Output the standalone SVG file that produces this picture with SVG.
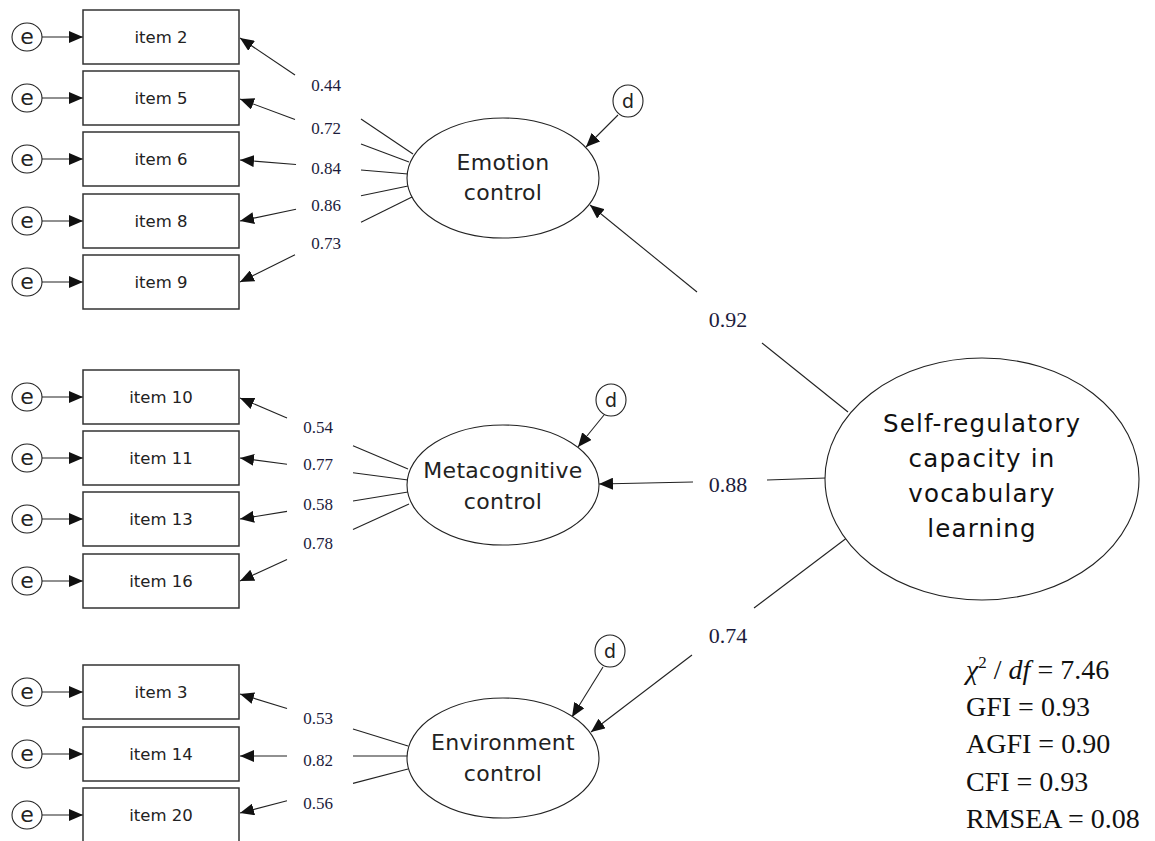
<svg xmlns="http://www.w3.org/2000/svg" width="1155" height="841" viewBox="0 0 1155 841">
<style>
.bg{fill:#fff}
.box{fill:#fff;stroke:#333;stroke-width:1.5}
.ell{fill:#fff;stroke:#222;stroke-width:1.1}
.ln{stroke:#222;stroke-width:1.1;fill:none}
.ar{stroke:#222;stroke-width:1.1;fill:none;marker-end:url(#ah)}
.it{font-family:"DejaVu Sans",sans-serif;font-size:16.5px;fill:#222;text-anchor:middle}
.lat{font-family:"DejaVu Sans",sans-serif;font-size:22px;fill:#222;text-anchor:middle;letter-spacing:0.3px}
.big{font-family:"DejaVu Sans",sans-serif;font-size:24.5px;fill:#111;text-anchor:middle;letter-spacing:1.2px}
.ev{font-family:"DejaVu Sans",sans-serif;font-size:22px;fill:#222;text-anchor:middle}
.dv{font-family:"DejaVu Sans",sans-serif;font-size:19px;fill:#222;text-anchor:middle}
.sl{font-family:"Liberation Serif",serif;font-size:17px;fill:#1c1c3c;text-anchor:middle}
.ml{font-family:"Liberation Serif",serif;font-size:22px;fill:#1c1c3c;text-anchor:middle}
.fit{font-family:"Liberation Serif",serif;font-size:28px;fill:#111}
</style>
<defs>
<marker id="ah" markerUnits="userSpaceOnUse" markerWidth="14" markerHeight="12" viewBox="0 0 14 12" refX="14" refY="6" orient="auto">
<path d="M0,0 L14,6 L0,12 z" fill="#111"/>
</marker>
</defs>
<rect class="bg" x="0" y="0" width="1155" height="841"/>

<g id="connectors">
<!-- e arrows -->
<line class="ar" x1="42" y1="37" x2="83" y2="37"/>
<line class="ar" x1="42" y1="98" x2="83" y2="98"/>
<line class="ar" x1="42" y1="159" x2="83" y2="159"/>
<line class="ar" x1="42" y1="221" x2="83" y2="221"/>
<line class="ar" x1="42" y1="282" x2="83" y2="282"/>
<line class="ar" x1="42" y1="397" x2="83" y2="397"/>
<line class="ar" x1="42" y1="458" x2="83" y2="458"/>
<line class="ar" x1="42" y1="519" x2="83" y2="519"/>
<line class="ar" x1="42" y1="581" x2="83" y2="581"/>
<line class="ar" x1="42" y1="692" x2="83" y2="692"/>
<line class="ar" x1="42" y1="754" x2="83" y2="754"/>
<line class="ar" x1="42" y1="815" x2="83" y2="815"/>
<!-- emotion loadings -->
<line class="ln" x1="413" y1="154" x2="361" y2="119"/>
<line class="ar" x1="295" y1="75" x2="240" y2="38"/>
<line class="ln" x1="409" y1="162" x2="361" y2="144"/>
<line class="ar" x1="295" y1="119.5" x2="240" y2="99"/>
<line class="ln" x1="408" y1="174" x2="361" y2="170"/>
<line class="ar" x1="296" y1="164.5" x2="240" y2="160"/>
<line class="ln" x1="408" y1="186" x2="361" y2="195.8"/>
<line class="ar" x1="296" y1="209.3" x2="240" y2="221"/>
<line class="ln" x1="412" y1="197" x2="361" y2="222.2"/>
<line class="ar" x1="295" y1="254.8" x2="240" y2="282"/>
<!-- metacognitive loadings -->
<line class="ln" x1="408" y1="469" x2="353" y2="445.8"/>
<line class="ar" x1="287" y1="417.9" x2="240" y2="398"/>
<line class="ln" x1="408" y1="480" x2="353" y2="472.8"/>
<line class="ar" x1="287" y1="464.2" x2="240" y2="458"/>
<line class="ln" x1="408" y1="492" x2="353" y2="501"/>
<line class="ar" x1="287" y1="511.4" x2="240" y2="519"/>
<line class="ln" x1="409" y1="504" x2="353" y2="529.5"/>
<line class="ar" x1="287" y1="559.6" x2="240" y2="581"/>
<!-- environment loadings -->
<line class="ln" x1="408" y1="746" x2="353" y2="729"/>
<line class="ar" x1="287" y1="708.5" x2="240" y2="694"/>
<line class="ln" x1="408" y1="756" x2="353" y2="756"/>
<line class="ar" x1="287" y1="756" x2="240" y2="756"/>
<line class="ln" x1="408" y1="769" x2="353" y2="783.4"/>
<line class="ar" x1="287" y1="800.7" x2="240" y2="813"/>
<!-- second-order paths -->
<line class="ln" x1="848" y1="412" x2="762" y2="343"/>
<line class="ar" x1="697" y1="292" x2="590" y2="205"/>
<line class="ln" x1="826" y1="478" x2="767" y2="480"/>
<line class="ar" x1="693" y1="482" x2="599" y2="484"/>
<line class="ln" x1="848" y1="537" x2="754" y2="608"/>
<line class="ar" x1="692" y1="655" x2="591" y2="732"/>
<!-- disturbance arrows -->
<line class="ar" x1="618" y1="115" x2="586" y2="147"/>
<line class="ar" x1="604" y1="415" x2="578" y2="447"/>
<line class="ar" x1="603" y1="667" x2="572" y2="717"/>
<!-- loading labels -->
<text class="sl" x="326" y="91">0.44</text>
<text class="sl" x="326" y="134">0.72</text>
<text class="sl" x="326" y="174">0.84</text>
<text class="sl" x="326" y="211">0.86</text>
<text class="sl" x="326" y="249">0.73</text>
<text class="sl" x="318" y="433">0.54</text>
<text class="sl" x="318" y="470">0.77</text>
<text class="sl" x="318" y="510">0.58</text>
<text class="sl" x="318" y="549">0.78</text>
<text class="sl" x="318" y="724">0.53</text>
<text class="sl" x="318" y="766">0.82</text>
<text class="sl" x="318" y="809">0.56</text>
<text class="ml" x="728" y="327">0.92</text>
<text class="ml" x="728" y="492">0.88</text>
<text class="ml" x="728" y="643">0.74</text>
</g>

<!-- error terms -->
<g id="e1"><ellipse class="ell" cx="27" cy="37" rx="15" ry="14"/><text class="ev" x="27" y="43.5">e</text></g>
<g id="e2"><ellipse class="ell" cx="27" cy="98" rx="15" ry="14"/><text class="ev" x="27" y="104.5">e</text></g>
<g id="e3"><ellipse class="ell" cx="27" cy="159" rx="15" ry="14"/><text class="ev" x="27" y="165.5">e</text></g>
<g id="e4"><ellipse class="ell" cx="27" cy="221" rx="15" ry="14"/><text class="ev" x="27" y="227.5">e</text></g>
<g id="e5"><ellipse class="ell" cx="27" cy="282" rx="15" ry="14"/><text class="ev" x="27" y="288.5">e</text></g>
<g id="e6"><ellipse class="ell" cx="27" cy="397" rx="15" ry="14"/><text class="ev" x="27" y="403.5">e</text></g>
<g id="e7"><ellipse class="ell" cx="27" cy="458" rx="15" ry="14"/><text class="ev" x="27" y="464.5">e</text></g>
<g id="e8"><ellipse class="ell" cx="27" cy="519" rx="15" ry="14"/><text class="ev" x="27" y="525.5">e</text></g>
<g id="e9"><ellipse class="ell" cx="27" cy="581" rx="15" ry="14"/><text class="ev" x="27" y="587.5">e</text></g>
<g id="e10"><ellipse class="ell" cx="27" cy="692" rx="15" ry="14"/><text class="ev" x="27" y="698.5">e</text></g>
<g id="e11"><ellipse class="ell" cx="27" cy="754" rx="15" ry="14"/><text class="ev" x="27" y="760.5">e</text></g>
<g id="e12"><ellipse class="ell" cx="27" cy="815" rx="15" ry="14"/><text class="ev" x="27" y="821.5">e</text></g>

<!-- observed items -->
<g id="item2"><rect class="box" x="83" y="10" width="156" height="54"/><text class="it" x="161" y="43">item 2</text></g>
<g id="item5"><rect class="box" x="83" y="71" width="156" height="54"/><text class="it" x="161" y="104">item 5</text></g>
<g id="item6"><rect class="box" x="83" y="132" width="156" height="54"/><text class="it" x="161" y="165">item 6</text></g>
<g id="item8"><rect class="box" x="83" y="194" width="156" height="54"/><text class="it" x="161" y="227">item 8</text></g>
<g id="item9"><rect class="box" x="83" y="255" width="156" height="54"/><text class="it" x="161" y="288">item 9</text></g>
<g id="item10"><rect class="box" x="83" y="370" width="156" height="54"/><text class="it" x="161" y="403">item 10</text></g>
<g id="item11"><rect class="box" x="83" y="431" width="156" height="54"/><text class="it" x="161" y="464">item 11</text></g>
<g id="item13"><rect class="box" x="83" y="492" width="156" height="54"/><text class="it" x="161" y="525">item 13</text></g>
<g id="item16"><rect class="box" x="83" y="554" width="156" height="54"/><text class="it" x="161" y="587">item 16</text></g>
<g id="item3"><rect class="box" x="83" y="665" width="156" height="54"/><text class="it" x="161" y="698">item 3</text></g>
<g id="item14"><rect class="box" x="83" y="727" width="156" height="54"/><text class="it" x="161" y="760">item 14</text></g>
<g id="item20"><rect class="box" x="83" y="788" width="156" height="54"/><text class="it" x="161" y="821">item 20</text></g>

<!-- latent factors -->
<g id="emotion"><ellipse class="ell" cx="503" cy="178" rx="96" ry="60"/><text class="lat" x="503" y="170">Emotion</text><text class="lat" x="503" y="200">control</text></g>
<g id="metacognitive"><ellipse class="ell" cx="503" cy="485" rx="96" ry="60"/><text class="lat" x="503" y="478">Metacognitive</text><text class="lat" x="503" y="509">control</text></g>
<g id="environment"><ellipse class="ell" cx="503" cy="758" rx="96" ry="60"/><text class="lat" x="503" y="750">Environment</text><text class="lat" x="503" y="781">control</text></g>

<!-- disturbances -->
<g id="d1"><ellipse class="ell" cx="628" cy="101" rx="15" ry="16"/><text class="dv" x="628" y="108">d</text></g>
<g id="d2"><ellipse class="ell" cx="611" cy="400" rx="15" ry="16"/><text class="dv" x="611" y="407">d</text></g>
<g id="d3"><ellipse class="ell" cx="610" cy="651" rx="15" ry="16"/><text class="dv" x="610" y="658">d</text></g>

<!-- second-order factor -->
<g id="srcvl"><ellipse class="ell" cx="982" cy="479" rx="157" ry="121"/>
<text class="big" x="982" y="432">Self-regulatory</text>
<text class="big" x="982" y="467">capacity in</text>
<text class="big" x="982" y="502">vocabulary</text>
<text class="big" x="982" y="537">learning</text>
</g>

<!-- fit indices -->
<g id="fit">
<text class="fit" x="966" y="679"><tspan font-style="italic">χ</tspan><tspan font-size="17" dy="-11">2</tspan><tspan dy="11"> / </tspan><tspan font-style="italic">df</tspan> = 7.46</text>
<text class="fit" x="966" y="716">GFI = 0.93</text>
<text class="fit" x="966" y="753">AGFI = 0.90</text>
<text class="fit" x="966" y="791">CFI = 0.93</text>
<text class="fit" x="966" y="828">RMSEA = 0.08</text>
</g>
</svg>
